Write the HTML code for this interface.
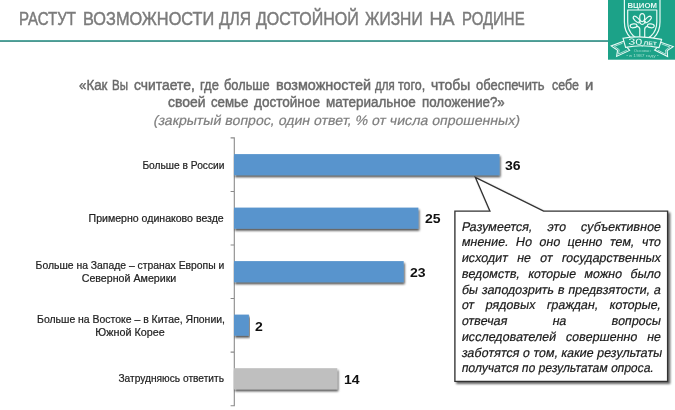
<!DOCTYPE html>
<html lang="ru">
<head>
<meta charset="utf-8">
<title>Растут возможности для достойной жизни на Родине</title>
<style>
html,body{margin:0;padding:0;background:#fff;}
body{font-family:"Liberation Sans",sans-serif;}
#page{position:relative;width:675px;height:410px;overflow:hidden;background:#fff;}
.t{position:absolute;white-space:nowrap;margin:0;padding:0;}
.title{color:#7b7b7b;-webkit-text-stroke:0.45px #7b7b7b;}
.q{color:#6a6a6a;-webkit-text-stroke:0.45px #6a6a6a;}
.qi{color:#7f7f7f;-webkit-text-stroke:0.2px #7f7f7f;}
.lab{color:#222;-webkit-text-stroke:0.22px #222;}
.val{color:#111;font-weight:bold;}
.co{color:#1a1a1a;font-style:italic;}
.jl{position:absolute;white-space:nowrap;text-align:justify;text-align-last:justify;transform-origin:0 78%;color:#1a1a1a;-webkit-text-stroke:0.2px #1a1a1a;}
svg{position:absolute;left:0;top:0;}
</style>
</head>
<body>
<div id="page">
<div style="position:absolute;left:0;top:40px;width:612px;height:1.9px;background:linear-gradient(#56aca3,#4a938c)"></div>
<div class="t title" style="top:7.76px;left:19.26px;transform-origin:0 50%;transform:scaleX(0.8358);font-size:18px;line-height:22px;">РАСТУТ</div>
<div class="t title" style="top:7.76px;left:82.99px;transform-origin:0 50%;transform:scaleX(0.9063);font-size:18px;line-height:22px;">ВОЗМОЖНОСТИ</div>
<div class="t title" style="top:7.76px;left:218.80px;transform-origin:0 50%;transform:scaleX(0.8667);font-size:18px;line-height:22px;">ДЛЯ</div>
<div class="t title" style="top:7.76px;left:255.90px;transform-origin:0 50%;transform:scaleX(0.8887);font-size:18px;line-height:22px;">ДОСТОЙНОЙ</div>
<div class="t title" style="top:7.76px;left:364.80px;transform-origin:0 50%;transform:scaleX(0.8682);font-size:18px;line-height:22px;">ЖИЗНИ</div>
<div class="t title" style="top:7.76px;left:429.60px;transform-origin:0 50%;transform:scaleX(1.0000);font-size:18px;line-height:22px;">НА</div>
<div class="t title" style="top:7.76px;left:462.37px;transform-origin:0 50%;transform:scaleX(0.8311);font-size:18px;line-height:22px;">РОДИНЕ</div>
<div class="t q" style="top:76.55px;left:79.00px;transform-origin:0 50%;transform:scaleX(0.9500);font-size:14px;line-height:17px;">«Как</div>
<div class="t q" style="top:76.55px;left:112.40px;transform-origin:0 50%;transform:scaleX(0.8200);font-size:14px;line-height:17px;">Вы</div>
<div class="t q" style="top:76.55px;left:134.20px;transform-origin:0 50%;transform:scaleX(0.9917);font-size:14px;line-height:17px;">считаете,</div>
<div class="t q" style="top:76.55px;left:199.80px;transform-origin:0 50%;transform:scaleX(0.9200);font-size:14px;line-height:17px;">где</div>
<div class="t q" style="top:76.55px;left:224.00px;transform-origin:0 50%;transform:scaleX(0.9140);font-size:14px;line-height:17px;">больше</div>
<div class="t q" style="top:76.55px;left:275.80px;transform-origin:0 50%;transform:scaleX(1.0293);font-size:14px;line-height:17px;">возможностей</div>
<div class="t q" style="top:76.55px;left:375.27px;transform-origin:0 50%;transform:scaleX(0.8200);font-size:14px;line-height:17px;">для</div>
<div class="t q" style="top:76.55px;left:398.30px;transform-origin:0 50%;transform:scaleX(0.8900);font-size:14px;line-height:17px;">того,</div>
<div class="t q" style="top:76.55px;left:431.10px;transform-origin:0 50%;transform:scaleX(0.9923);font-size:14px;line-height:17px;">чтобы</div>
<div class="t q" style="top:76.55px;left:476.10px;transform-origin:0 50%;transform:scaleX(0.9243);font-size:14px;line-height:17px;">обеспечить</div>
<div class="t q" style="top:76.55px;left:551.50px;transform-origin:0 50%;transform:scaleX(0.8867);font-size:14px;line-height:17px;">себе</div>
<div class="t q" style="top:76.55px;left:585.09px;transform-origin:0 50%;transform:scaleX(1.0600);font-size:14px;line-height:17px;">и</div>
<div class="t q" style="top:93.75px;left:168.30px;transform-origin:0 50%;transform:scaleX(0.9946);font-size:14px;line-height:17px;">своей</div>
<div class="t q" style="top:93.75px;left:211.00px;transform-origin:0 50%;transform:scaleX(0.9462);font-size:14px;line-height:17px;">семье</div>
<div class="t q" style="top:93.75px;left:253.70px;transform-origin:0 50%;transform:scaleX(0.9676);font-size:14px;line-height:17px;">достойное</div>
<div class="t q" style="top:93.75px;left:326.20px;transform-origin:0 50%;transform:scaleX(0.9624);font-size:14px;line-height:17px;">материальное</div>
<div class="t q" style="top:93.75px;left:421.50px;transform-origin:0 50%;transform:scaleX(0.9506);font-size:14px;line-height:17px;">положение?»</div>
<div class="t qi" style="top:113.05px;left:-64.4px;width:800px;text-align:center;transform-origin:50% 78%;transform:scaleX(1.0307) skewX(-11deg);font-size:13.7px;line-height:16px">(закрытый вопрос, один ответ, % от числа опрошенных)</div>
<svg width="675" height="410" viewBox="0 0 675 410">
<defs><filter id="sh" x="-5%" y="-30%" width="110%" height="180%"><feGaussianBlur in="SourceAlpha" stdDeviation="1.1"/><feOffset dx="0.9" dy="2.1"/><feComponentTransfer><feFuncA type="linear" slope="0.7"/></feComponentTransfer><feMerge><feMergeNode/><feMergeNode in="SourceGraphic"/></feMerge></filter>
<filter id="sh2" x="-5%" y="-10%" width="112%" height="125%"><feGaussianBlur in="SourceAlpha" stdDeviation="1.2"/><feOffset dx="2.2" dy="2.2"/><feComponentTransfer><feFuncA type="linear" slope="0.62"/></feComponentTransfer><feMerge><feMergeNode/><feMergeNode in="SourceGraphic"/></feMerge></filter></defs>
<path d="M234.3 137.35 V406.25 M230.60000000000002 137.9 H234.3 M230.60000000000002 191.45 H234.3 M230.60000000000002 245.0 H234.3 M230.60000000000002 298.55 H234.3 M230.60000000000002 352.1 H234.3 M230.60000000000002 405.7 H234.3" stroke="#8a8a8a" stroke-width="1.1" fill="none"/>
<rect x="234.0" y="154.1" width="265.5" height="21.1" fill="#5894cd" filter="url(#sh)"/>
<rect x="234.0" y="207.6" width="184.4" height="21.1" fill="#5894cd" filter="url(#sh)"/>
<rect x="234.0" y="261.1" width="169.7" height="21.1" fill="#5894cd" filter="url(#sh)"/>
<rect x="234.0" y="314.6" width="14.9" height="21.1" fill="#5894cd" filter="url(#sh)"/>
<rect x="234.0" y="368.2" width="103.3" height="21.1" fill="#bfbfbf" filter="url(#sh)"/>
<path d="M454.9 211.1 H489.9 L475.4 177.4 L543.6 211.1 H667.6 V381.3 H454.9 Z" fill="#fff" stroke="#333" stroke-width="1.35" stroke-linejoin="miter" filter="url(#sh2)"/>
</svg>
<div class="t lab" style="top:158.69px;right:450.80px;transform-origin:100% 50%;transform:scaleX(0.9275);font-size:11px;line-height:13px;">Больше в России</div>
<div class="t lab" style="top:212.19px;right:451.00px;transform-origin:100% 50%;transform:scaleX(0.9607);font-size:11px;line-height:13px;">Примерно одинаково везде</div>
<div class="t lab" style="top:258.99px;left:-270.00px;width:800px;text-align:center;transform-origin:50% 50%;transform:scaleX(0.9433);font-size:11px;line-height:13px;">Больше на Западе – странах Европы и</div>
<div class="t lab" style="top:272.39px;left:-270.60px;width:800px;text-align:center;transform-origin:50% 50%;transform:scaleX(0.9691);font-size:11px;line-height:13px;">Северной Америки</div>
<div class="t lab" style="top:313.29px;left:-269.30px;width:800px;text-align:center;transform-origin:50% 50%;transform:scaleX(0.9495);font-size:11px;line-height:13px;">Больше на Востоке – в Китае, Японии,</div>
<div class="t lab" style="top:325.59px;left:-270.20px;width:800px;text-align:center;transform-origin:50% 50%;transform:scaleX(0.9794);font-size:11px;line-height:13px;">Южной Корее</div>
<div class="t lab" style="top:372.39px;right:450.60px;transform-origin:100% 50%;transform:scaleX(0.9261);font-size:11px;line-height:13px;">Затрудняюсь ответить</div>
<div class="t val" style="top:157.52px;left:505.30px;transform-origin:0 50%;transform:scaleX(1.0400);font-size:13.5px;line-height:16px;">36</div>
<div class="t val" style="top:211.42px;left:424.70px;transform-origin:0 50%;transform:scaleX(1.0400);font-size:13.5px;line-height:16px;">25</div>
<div class="t val" style="top:264.82px;left:410.00px;transform-origin:0 50%;transform:scaleX(1.0400);font-size:13.5px;line-height:16px;">23</div>
<div class="t val" style="top:318.52px;left:254.90px;transform-origin:0 50%;transform:scaleX(1.0400);font-size:13.5px;line-height:16px;">2</div>
<div class="t val" style="top:372.12px;left:344.00px;transform-origin:0 50%;transform:scaleX(1.0400);font-size:13.5px;line-height:16px;">14</div>
<div class="jl" style="left:461.2px;top:219.53px;width:200.48px;font-size:12.6px;line-height:15px;transform:scaleX(0.9936) skewX(-11deg);">Разумеется, это субъективное</div>
<div class="jl" style="left:461.2px;top:235.28px;width:200.48px;font-size:12.6px;line-height:15px;transform:scaleX(0.9936) skewX(-11deg);">мнение. Но оно ценно тем, что</div>
<div class="jl" style="left:461.2px;top:251.03px;width:200.48px;font-size:12.6px;line-height:15px;transform:scaleX(0.9936) skewX(-11deg);">исходит не от государственных</div>
<div class="jl" style="left:461.2px;top:266.78px;width:200.48px;font-size:12.6px;line-height:15px;transform:scaleX(0.9936) skewX(-11deg);">ведомств, которые можно было</div>
<div class="jl" style="left:461.2px;top:282.53px;width:200.48px;font-size:12.6px;line-height:15px;transform:scaleX(0.9936) skewX(-11deg);">бы заподозрить в предвзятости, а</div>
<div class="jl" style="left:461.2px;top:298.28px;width:200.48px;font-size:12.6px;line-height:15px;transform:scaleX(0.9936) skewX(-11deg);">от рядовых граждан, которые,</div>
<div class="jl" style="left:461.2px;top:314.03px;width:200.48px;font-size:12.6px;line-height:15px;transform:scaleX(0.9936) skewX(-11deg);">отвечая на вопросы</div>
<div class="jl" style="left:461.2px;top:329.78px;width:200.48px;font-size:12.6px;line-height:15px;transform:scaleX(0.9936) skewX(-11deg);">исследователей совершенно не</div>
<div class="jl" style="left:461.2px;top:345.53px;width:200.48px;font-size:12.6px;line-height:15px;transform:scaleX(0.9936) skewX(-11deg);">заботятся о том, какие результаты</div>
<div class="jl" style="left:461.2px;top:361.28px;width:207.54px;font-size:12.6px;line-height:15px;transform:scaleX(0.9598) skewX(-11deg);text-align-last:left;">получатся по результатам опроса.</div>
<svg width="675" height="410" viewBox="0 0 675 410" style="position:absolute;left:0;top:0">
<rect x="608" y="0" width="67" height="59.7" fill="#1ca288"/>
<g fill="none" stroke="#eafaf6" stroke-width="1.2" stroke-linecap="round" stroke-linejoin="round">
<path d="M624.4 -1 V22 C624.4 29.5 626.8 34 630.4 37.4 L642.2 46 L654 37.4 C657.6 34 660 29.5 660 22 V-1"/>
<path d="M627.7 10 H656.8 V22 C656.8 28.5 654.6 32.6 651.2 35.8 L642.2 42.5 L633.3 35.8 C629.9 32.6 627.7 28.5 627.7 22 Z"/>
<ellipse cx="642.2" cy="17.6" rx="2.5" ry="4"/>
<ellipse cx="636.6" cy="19.5" rx="1.9" ry="4.2" transform="rotate(-47 636.6 19.5)"/>
<ellipse cx="647.9" cy="19.5" rx="1.9" ry="4.2" transform="rotate(47 647.9 19.5)"/>
<ellipse cx="633.6" cy="25.8" rx="3.5" ry="1.9" transform="rotate(-8 633.6 25.8)"/>
<ellipse cx="650.8" cy="25.8" rx="3.5" ry="1.9" transform="rotate(8 650.8 25.8)"/>
<path d="M639.8 38 V29.6 Q639.8 26.8 637.2 26.4 M644.7 38 V29.6 Q644.7 26.8 647.2 26.4 M639 21.6 L640.6 23.6 Q642.2 25.2 643.9 23.6 L645.5 21.6"/>
</g>
<g fill="#1ca288" stroke="#eafaf6" stroke-width="1.1" stroke-linejoin="miter">
<path d="M625.5 40.6 L611.2 45.9 L617.6 50.2 L616.6 56.4 L629.6 50.4 L626.3 46.4 Z"/>
<path d="M658.6 41.4 L673.2 46.6 L667.2 50.6 L667.6 56.6 L654.6 50 L657.8 46.8 Z"/>
<path d="M623 38.2 Q641.9 35 661.6 39.4 L659 47.6 Q641.9 44 625.6 47.4 Z" stroke-width="1.15"/>
</g>
<g fill="none" stroke="#e4f7f2" stroke-width="0.7">
<path d="M622.6 43.2 L614.4 46.3 L619.2 49.7 L618.5 54 L626.8 50.2"/>
<path d="M661.6 44 L669.9 47 L665.6 50 L665.8 54.2 L657.6 50"/>
</g>
<g font-family="'Liberation Sans',sans-serif" font-weight="bold" fill="#e6f8f3">
<text x="627.5" y="7.6" font-size="7.4" textLength="29.4" lengthAdjust="spacingAndGlyphs">ВЦИОМ</text>
<g transform="rotate(2 642 42)">
<text x="628.4" y="45" font-size="8.8" font-weight="normal" textLength="13.9" lengthAdjust="spacingAndGlyphs">30</text>
<text x="643.6" y="44.8" font-size="5.1" textLength="13.3" lengthAdjust="spacingAndGlyphs">ЛЕТ</text>
</g>
<text x="633.7" y="51.9" font-size="3.6" font-weight="normal" textLength="17" lengthAdjust="spacingAndGlyphs" fill="#9fdccc">Основан</text>
<text x="626.2" y="57.2" font-size="4.1" font-weight="normal" textLength="32.6" lengthAdjust="spacingAndGlyphs" fill="#9fdccc">• в 1987 году •</text>
</g>
</svg>
</div>
</body>
</html>
